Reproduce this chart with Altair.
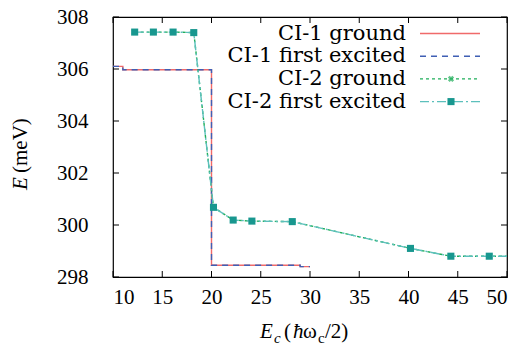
import altair as alt
import pandas as pd

# ---- data ----
ci1_x = [10, 11, 20, 29, 30]
ci1_ground = [306.10, 305.97, 298.45, 298.40, 298.40]
ci1_excited = [306.10, 305.97, 298.45, 298.40, 298.40]

ci2_x = [12.2, 14.1, 16.1, 18.2, 20.2, 22.2, 24.1, 28.2, 40.2, 44.3, 48.2, 50]
ci2_ground = [307.42, 307.42, 307.42, 307.40, 300.68, 300.19, 300.15, 300.13, 299.10, 298.80, 298.80, 298.80]
ci2_excited = [307.42, 307.42, 307.42, 307.40, 300.68, 300.19, 300.15, 300.13, 299.10, 298.80, 298.80, 298.80]
ci2_marker = [True, True, True, True, True, True, True, True, True, True, True, False]

series_names = ["CI-1 ground", "CI-1 first excited", "CI-2 ground", "CI-2 first excited"]
series_colors = ["#f06a6a", "#3f5fb4", "#1fae5a", "#5cc0bc"]
marker_color = "#18978f"

x_ticks = [10, 15, 20, 25, 30, 35, 40, 45, 50]
y_ticks = [298, 300, 302, 304, 306, 308]

FONT_AXIS = "Liberation Serif"
FONT_LEG = "DejaVu Serif"
FONT_TITLE = "Times New Roman"
FS = 21
W, H = 394, 260

xs = alt.Scale(domain=[10, 50], nice=False, zero=False)
ys = alt.Scale(domain=[298, 308], nice=False, zero=False)

ci1 = pd.DataFrame({"x": ci1_x, "g": ci1_ground, "e": ci1_excited})
ci2 = pd.DataFrame({"x": ci2_x, "g": ci2_ground, "e": ci2_excited, "m": ci2_marker})

xaxis = alt.Axis(values=x_ticks, ticks=False, domain=False, grid=False, labelFont=FONT_AXIS,
                 labelFontSize=FS, labelColor="black", labelPadding=9, title=None)
yaxis = alt.Axis(values=y_ticks, ticks=False, domain=False, grid=False, labelFont=FONT_AXIS,
                 labelFontSize=FS, labelColor="black", labelPadding=25, title=None)

base1 = alt.Chart(ci1)
l1 = base1.mark_line(interpolate="step-after", color=series_colors[0], strokeWidth=1.4).encode(
    x=alt.X("x:Q", scale=xs, axis=xaxis), y=alt.Y("g:Q", scale=ys, axis=yaxis))
l2 = base1.mark_line(interpolate="step-after", color=series_colors[1], strokeWidth=1.4,
                     strokeDash=[6, 5]).encode(x=alt.X("x:Q", scale=xs), y=alt.Y("e:Q", scale=ys))

base2 = alt.Chart(ci2)
l3 = base2.mark_line(color=series_colors[2], strokeWidth=1.4, strokeDash=[3, 3]).encode(
    x=alt.X("x:Q", scale=xs), y=alt.Y("g:Q", scale=ys))
p3 = base2.transform_filter("datum.m").mark_point(shape="cross", angle=45, color=series_colors[2],
                                                   filled=True, size=40).encode(
    x=alt.X("x:Q", scale=xs), y=alt.Y("g:Q", scale=ys))
l4 = base2.mark_line(color=series_colors[3], strokeWidth=1.4, strokeDash=[9, 3, 2, 3]).encode(
    x=alt.X("x:Q", scale=xs), y=alt.Y("e:Q", scale=ys))
p4 = base2.transform_filter("datum.m").mark_square(color=marker_color, opacity=1, size=50).encode(
    x=alt.X("x:Q", scale=xs), y=alt.Y("e:Q", scale=ys))

# inward ticks on all four sides
xt = alt.Chart(pd.DataFrame({"t": x_ticks}))
yt = alt.Chart(pd.DataFrame({"t": y_ticks}))
TL = 6
tick_b = xt.mark_rule(color="black", strokeWidth=1).encode(x=alt.X("t:Q", scale=xs), y=alt.value(H), y2=alt.value(H - TL))
tick_t = xt.mark_rule(color="black", strokeWidth=1).encode(x=alt.X("t:Q", scale=xs), y=alt.value(0), y2=alt.value(TL))
tick_l = yt.mark_rule(color="black", strokeWidth=1).encode(y=alt.Y("t:Q", scale=ys), x=alt.value(0), x2=alt.value(TL))
tick_r = yt.mark_rule(color="black", strokeWidth=1).encode(y=alt.Y("t:Q", scale=ys), x=alt.value(W), x2=alt.value(W - TL))

# legend (inside, top right; label right-aligned, sample on the right)
leg_layers = []
dashes = [None, [6, 5], [3, 3], [9, 3, 2, 3]]
for i, name in enumerate(series_names):
    yy = 16.5 + i * 22.7
    d = alt.Chart(pd.DataFrame({"name": [name]}))
    leg_layers.append(d.mark_text(align="right", baseline="middle", font=FONT_LEG, fontSize=FS, color="black").encode(
        text="name:N", x=alt.value(293), y=alt.value(yy)))
    rule_kw = dict(color=series_colors[i], strokeWidth=1.4)
    if dashes[i]:
        rule_kw["strokeDash"] = dashes[i]
    leg_layers.append(d.mark_rule(**rule_kw).encode(x=alt.value(307), x2=alt.value(367), y=alt.value(yy)))
    if i == 2:
        leg_layers.append(d.mark_point(shape="cross", angle=45, color=series_colors[2], filled=True, size=40).encode(
            x=alt.value(338), y=alt.value(yy)))
    if i == 3:
        leg_layers.append(d.mark_square(color=marker_color, opacity=1, size=50).encode(
            x=alt.value(338), y=alt.value(yy)))

# axis titles with italics / subscripts
title_parts = [
    ("E", 147, 321, FS, "italic"),
    ("c", 161, 326, 15, "italic"),
    ("(", 171, 321, FS, "normal"),
    ("ħ", 180, 321, FS, "italic"),
    ("ω", 190, 321, FS, "normal"),
    ("c", 205, 326, 15, "normal"),
    ("/2)", 212, 321, FS, "normal"),
]
tt_layers = []
for txt, px, py, fs, st in title_parts:
    tt_layers.append(alt.Chart(pd.DataFrame({"s": [txt]})).mark_text(
        align="left", baseline="alphabetic", font=FONT_TITLE, fontSize=fs, fontStyle=st, color="black").encode(
        text="s:N", x=alt.value(px), y=alt.value(py)))
tt_layers.append(alt.Chart(pd.DataFrame({"s": ["E"]})).mark_text(
    align="left", baseline="alphabetic", font=FONT_TITLE, fontSize=FS, fontStyle="italic", angle=270, color="black").encode(
    text="s:N", x=alt.value(-86), y=alt.value(173)))
tt_layers.append(alt.Chart(pd.DataFrame({"s": ["(meV)"]})).mark_text(
    align="left", baseline="alphabetic", font=FONT_TITLE, fontSize=FS, angle=270, color="black").encode(
    text="s:N", x=alt.value(-86), y=alt.value(156)))

chart = alt.layer(l1, l2, l3, p3, l4, p4, tick_b, tick_t, tick_l, tick_r, *leg_layers, *tt_layers).properties(
    width=W, height=H,
    view=alt.ViewBackground(stroke="black", strokeWidth=1.2),
    autosize=alt.AutoSizeParams(type="none"),
    padding={"left": 113, "top": 17, "right": 21, "bottom": 69},
)

chart.save("out.html", embed_options={"renderer": "svg", "actions": False})
